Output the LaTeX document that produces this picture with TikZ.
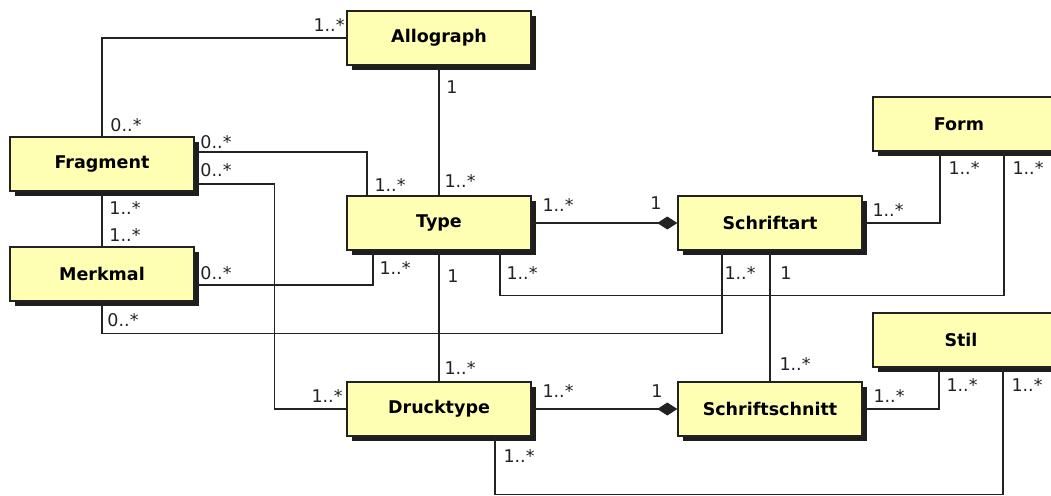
\documentclass[tikz,border=0pt]{standalone}
\usepackage{fontspec}
\setmainfont{DejaVu Sans}
\usetikzlibrary{arrows.meta,shadows}
\definecolor{boxfill}{HTML}{FFFFB4}
\definecolor{shadowcol}{HTML}{1E1E1E}
\definecolor{ink}{HTML}{222222}
\begin{document}
\begin{tikzpicture}[x=1pt,y=-1pt,
  cls/.style={draw=ink, line width=1.4pt, fill=boxfill, minimum width=184pt, minimum height=54pt,
    inner sep=0pt, font=\fontsize{17.5}{20}\selectfont\bfseries,
    drop shadow={shadow xshift=5pt, shadow yshift=-5pt, fill=shadowcol, opacity=1}},
  conn/.style={line width=1.3pt, draw=ink},
  comp/.style={conn, -{Diamond[length=20pt,width=13pt]}},
  mult/.style={font=\fontsize{17.5}{20}\selectfont, inner sep=0pt, text=ink}]
\useasboundingbox (0,0) rectangle (1051,495);
\clip (0,0) rectangle (1051,495);

% classes
\node[cls] (allograph) at (439,38) {Allograph};
\node[cls] (fragment) at (102,164) {Fragment};
\node[cls] (merkmal) at (102,274) {Merkmal};
\node[cls] (type) at (439,223) {Type};
\node[cls] (schriftart) at (770,223) {Schriftart};
\node[cls] (form) at (965,124) {\hspace*{-12pt}Form};
\node[cls] (stil) at (965,340) {\hspace*{-8pt}Stil};
\node[cls] (drucktype) at (439,409) {Drucktype};
\node[cls] (schriftschnitt) at (770,409) {Schriftschnitt};

% connectors
\draw[conn] (allograph.west) -| (fragment.north);
\draw[conn] (allograph.south) -- (type.north);
\draw[conn] ([yshift=12pt]fragment.east) -| ([xshift=-72pt]type.north);
\draw[conn] ([yshift=-20pt]fragment.east) -- ++(80,0) |- (drucktype.west);
\draw[conn] (fragment.south) -- (merkmal.north);
\draw[conn] ([yshift=-11pt]merkmal.east) -| ([xshift=-66pt]type.south);
\draw[conn] (merkmal.south) -- ++(0,32) -| ([xshift=-48pt]schriftart.south);
\draw[comp] (type.east) -- (schriftart.west);
\draw[conn] ([xshift=61pt]type.south) -- ++(0,45) -| ([xshift=39pt]form.south);
\draw[conn] (type.south) -- (drucktype.north);
\draw[conn] (schriftart.east) -| ([xshift=-25pt]form.south);
\draw[conn] (schriftart.south) -- (schriftschnitt.north);
\draw[comp] (drucktype.east) -- (schriftschnitt.west);
\draw[conn] (schriftschnitt.east) -| ([xshift=-26pt]stil.south);
\draw[conn] ([xshift=56pt]drucktype.south) -- ++(0,58) -| ([xshift=38pt]stil.south);

% multiplicities
\node[mult] (m1) at (329,25) {1..*};
\node[mult] (m2) at (126,125) {0..*};
\node[mult] (m3) at (452,87) {1};
\node[mult] (m4) at (460,181) {1..*};
\node[mult] (m5) at (216,142) {0..*};
\node[mult] (m6) at (390,185) {1..*};
\node[mult] (m7) at (216,170) {0..*};
\node[mult] (m8) at (327,396) {1..*};
\node[mult] (m9) at (125,208) {1..*};
\node[mult] (m10) at (125,235) {1..*};
\node[mult] (m11) at (216,273) {0..*};
\node[mult] (m12) at (395,268) {1..*};
\node[mult] (m13) at (123,320) {0..*};
\node[mult] (m14) at (740,273) {1..*};
\node[mult] (m15) at (558,205) {1..*};
\node[mult] (m16) at (656,203) {1};
\node[mult] (m17) at (522,273) {1..*};
\node[mult] (m18) at (1028,168) {1..*};
\node[mult] (m19) at (453,276) {1};
\node[mult] (m20) at (460,368) {1..*};
\node[mult] (m21) at (888,210) {1..*};
\node[mult] (m22) at (964,168) {1..*};
\node[mult] (m23) at (786,273) {1};
\node[mult] (m24) at (795,364) {1..*};
\node[mult] (m25) at (558,391) {1..*};
\node[mult] (m26) at (657,391) {1};
\node[mult] (m27) at (889,396) {1..*};
\node[mult] (m28) at (962,385) {1..*};
\node[mult] (m29) at (519,456) {1..*};
\node[mult] (m30) at (1027,385) {1..*};
\end{tikzpicture}
\end{document}
